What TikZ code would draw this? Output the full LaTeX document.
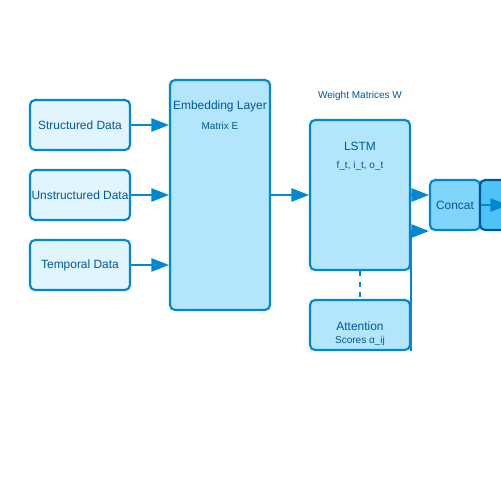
\documentclass[tikz,border=0pt]{standalone}
\usepackage{fontspec}
\setmainfont{Liberation Sans}
\usetikzlibrary{arrows.meta}
\definecolor{flowblue}{HTML}{0288D1}
\definecolor{textblue}{HTML}{01579B}
\definecolor{paleblue}{HTML}{E1F5FE}
\definecolor{lightblue}{HTML}{B3E5FC}
\definecolor{midblue}{HTML}{81D4FA}
\definecolor{deepblue}{HTML}{4FC3F7}
\tikzset{
  box/.style={draw=flowblue,line width=1.2pt,rounded corners=1mm,inner sep=0pt,text=textblue},
  inbox/.style={box,fill=paleblue,minimum width=2cm,minimum height=1cm},
  layerbox/.style={box,fill=lightblue,minimum width=2cm},
  big/.style={text=textblue,font=\fontsize{6.8}{8}\selectfont},
  small/.style={text=textblue,font=\fontsize{5.7}{7}\selectfont},
  flow/.style={draw=flowblue,line width=1.2pt,-{Triangle[length=10pt,width=7.5pt]}}
}
\begin{document}
\begin{tikzpicture}[x=0.02cm,y=-0.02cm]
\useasboundingbox (0,0) rectangle (500,500);
% Input data
\node[inbox,big] (sdata) at (80,125) {Structured Data};
\node[inbox,big] (udata) at (80,195) {Unstructured Data};
\node[inbox,big] (tdata) at (80,265) {Temporal Data};

% Embedding layer
\node[layerbox,minimum height=4.6cm] (emb) at (220,195) {};
\node[big] (embtitle) at (220,106) {Embedding Layer};
\node[small] (embsub) at (220,126) {Matrix E};

% LSTM and attention
\node[small] (weights) at (360,96) {Weight Matrices W};
\node[layerbox,minimum height=3cm] (lstm) at (360,195) {};
\node[big] (lstmtitle) at (360,146) {LSTM};
\node[small] (lstmsub) at (360,166) {f\_t, i\_t, o\_t};
\node[layerbox,minimum height=1cm] (att) at (360,325) {};
\node[big] (atttitle) at (360,326) {Attention};
\node[small] (attsub) at (360,341) {Scores α\_ij};

% Concat and output
\node[box,fill=midblue,minimum width=1cm,minimum height=1cm,big] (concat) at (455,205) {Concat};
\node[box,draw=textblue,fill=deepblue,minimum width=1cm,minimum height=1cm] (out) at (505,205) {};
\coordinate (outin) at (508,205);

% Connections
\draw[flow] (sdata.east) -- (sdata.east -| emb.west);
\draw[flow] (udata.east) -- (udata.east -| emb.west);
\draw[flow] (tdata.east) -- (tdata.east -| emb.west);
\draw[flow] (emb.east) -- (lstm.west);
\draw[draw=flowblue,line width=1.2pt,dashed] (lstm.south) -- (att.north);
\draw[flow] (lstm.east) -- (lstm.east -| concat.west);
\draw[flow] (att.south east) |- (concat.south west);
\draw[flow] (concat.east) -- (outin);
\end{tikzpicture}
\end{document}
